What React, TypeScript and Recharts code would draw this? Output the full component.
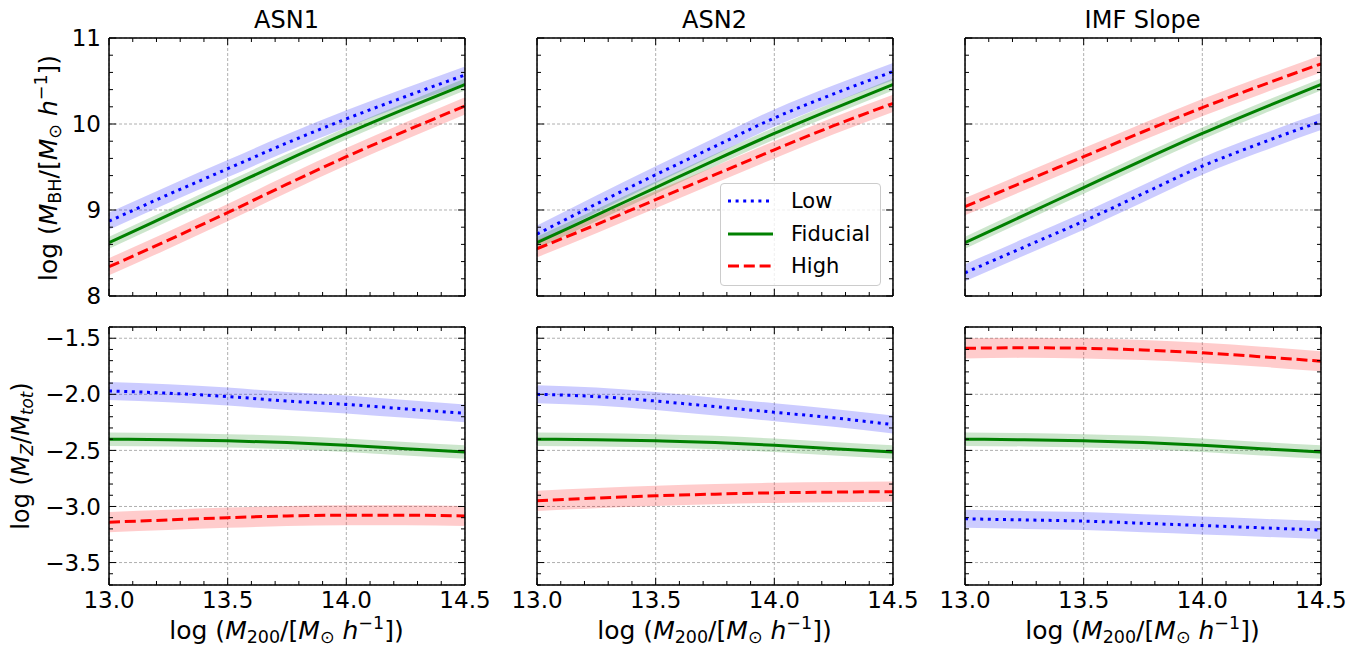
import { ComposedChart, Area, Line, XAxis, YAxis, CartesianGrid, Legend } from "recharts";

const FONT = '"DejaVu Sans", sans-serif';

// log M200 sample points
const haloMass = [13.0, 13.25, 13.5, 13.75, 14.0, 14.25, 14.5];

// top row: log M_BH
const bhFiducial = [8.62, 8.94, 9.26, 9.58, 9.89, 10.18, 10.46];
const bhAsn1Low = [8.87, 9.18, 9.48, 9.78, 10.06, 10.32, 10.57];
const bhAsn1High = [8.34, 8.65, 8.97, 9.3, 9.62, 9.92, 10.21];
const bhAsn2Low = [8.72, 9.07, 9.41, 9.74, 10.07, 10.35, 10.61];
const bhAsn2High = [8.55, 8.83, 9.12, 9.41, 9.7, 9.98, 10.24];
const bhImfLow = [8.27, 8.57, 8.87, 9.19, 9.51, 9.78, 10.03];
const bhImfHigh = [9.04, 9.33, 9.62, 9.91, 10.19, 10.45, 10.7];

// bottom row: log M_Z / M_tot
const zFiducial = [-2.4, -2.405, -2.415, -2.43, -2.455, -2.485, -2.515];
const zAsn1Low = [-1.97, -1.99, -2.02, -2.06, -2.09, -2.13, -2.17];
const zAsn1High = [-3.14, -3.12, -3.1, -3.085, -3.078, -3.078, -3.085];
const zAsn2Low = [-2.0, -2.02, -2.06, -2.11, -2.16, -2.21, -2.27];
const zAsn2High = [-2.95, -2.925, -2.905, -2.89, -2.878, -2.872, -2.868];
const zImfLow = [-3.11, -3.12, -3.13, -3.15, -3.17, -3.19, -3.21];
const zImfHigh = [-1.59, -1.585, -1.59, -1.605, -1.63, -1.665, -1.705];

// half widths of the shaded scatter bands
const bhSpread = { low: 0.1, fid: 0.07, high: 0.1 };
const zSpread = { low: 0.08, fid: 0.06, high: 0.09 };

const titles = ["ASN1", "ASN2", "IMF Slope"];

const xTicks = [13.0, 13.5, 14.0, 14.5];
const xMinorTicks = [13.1, 13.2, 13.3, 13.4, 13.6, 13.7, 13.8, 13.9, 14.1, 14.2, 14.3, 14.4];
const bhTicks = [8, 9, 10, 11];
const bhMinorTicks = [8.2, 8.4, 8.6, 8.8, 9.2, 9.4, 9.6, 9.8, 10.2, 10.4, 10.6, 10.8];
const zTicks = [-3.5, -3.0, -2.5, -2.0, -1.5];
const zMinorTicks = [
  -3.7, -3.6, -3.4, -3.3, -3.2, -3.1, -2.9, -2.8, -2.7, -2.6, -2.4, -2.3, -2.2, -2.1, -1.9, -1.8,
  -1.7, -1.6, -1.4,
];

const series = [
  { key: "low", name: "Low", color: "#0000ff", dash: "3 4.6" },
  { key: "fid", name: "Fiducial", color: "#008000", dash: undefined },
  { key: "high", name: "High", color: "#ff0000", dash: "11 4.8" },
];

const buildRows = (low: number[], fid: number[], high: number[], s: any) =>
  haloMass.map((m, i) => ({
    m,
    low: low[i],
    fid: fid[i],
    high: high[i],
    lowBand: [low[i] - s.low, low[i] + s.low],
    fidBand: [fid[i] - s.fid, fid[i] + s.fid],
    highBand: [high[i] - s.high, high[i] + s.high],
  }));

const panels = [
  [
    buildRows(bhAsn1Low, bhFiducial, bhAsn1High, bhSpread),
    buildRows(bhAsn2Low, bhFiducial, bhAsn2High, bhSpread),
    buildRows(bhImfLow, bhFiducial, bhImfHigh, bhSpread),
  ],
  [
    buildRows(zAsn1Low, zFiducial, zAsn1High, zSpread),
    buildRows(zAsn2Low, zFiducial, zAsn2High, zSpread),
    buildRows(zImfLow, zFiducial, zImfHigh, zSpread),
  ],
];

const plotLefts = [108.5, 536.5, 964.5];
const plotTops = [38, 327];
const PLOT_W = 356;
const PLOT_H = 258;
const ML = 70;
const MR = 36;
const MT = 20;
const MB = 45;
const THIN = 0.01; // axes need a non-zero size to render

const fmtZ = (v: number) => v.toFixed(1).replace("-", "\u2212");
const noLabel = () => <g />;

const LegendBox = () => (
  <div
    style={{
      width: 161,
      height: 103,
      boxSizing: "border-box",
      border: "1px solid #cccccc",
      borderRadius: 4,
      background: "rgba(255,255,255,0.8)",
      paddingTop: 1,
      paddingLeft: 7,
      fontFamily: FONT,
      fontSize: 21,
      color: "#000",
    }}
  >
    {series.map((s) => (
      <div key={s.key} style={{ display: "flex", alignItems: "center", height: 32.5 }}>
        <svg width={45} height={6} style={{ marginRight: 18 }}>
          <line x1={0} y1={3} x2={45} y2={3} stroke={s.color} strokeWidth={3} strokeDasharray={s.dash} />
        </svg>
        <span>{s.name}</span>
      </div>
    ))}
  </div>
);

function frameAxes(row: number, col: number) {
  const yDomain = row === 0 ? [8, 11] : [-3.7, -1.4];
  const yMajor = row === 0 ? bhTicks : zTicks;
  const yMinor = row === 0 ? bhMinorTicks : zMinorTicks;
  const frame = { stroke: "#000", strokeWidth: 1.5 };
  const tl = { stroke: "#000", strokeWidth: 1 };
  const tickText = { fill: "#000", fontSize: 23, fontFamily: FONT };
  const common = { type: "number" as const, allowDataOverflow: true, interval: 0 as const };
  return [
    <XAxis key="b" xAxisId="b" dataKey="m" orientation="bottom" domain={[13, 14.5]} ticks={xTicks} height={THIN}
      tickSize={-7} tickMargin={14} axisLine={frame} tickLine={tl}
      tick={row === 1 ? tickText : noLabel} tickFormatter={(v: number) => v.toFixed(1)} {...common} />,
    <XAxis key="bm" xAxisId="bm" dataKey="m" orientation="bottom" domain={[13, 14.5]} ticks={xMinorTicks} height={THIN}
      tickSize={-4} axisLine={false} tickLine={tl} tick={noLabel} {...common} />,
    <XAxis key="t" xAxisId="t" dataKey="m" orientation="top" domain={[13, 14.5]} ticks={xTicks} height={THIN}
      tickSize={-7} axisLine={frame} tickLine={tl} tick={noLabel} {...common} />,
    <XAxis key="tm" xAxisId="tm" dataKey="m" orientation="top" domain={[13, 14.5]} ticks={xMinorTicks} height={THIN}
      tickSize={-4} axisLine={false} tickLine={tl} tick={noLabel} {...common} />,
    <YAxis key="l" yAxisId="l" orientation="left" domain={yDomain} ticks={yMajor} width={THIN}
      tickSize={-7} tickMargin={15} axisLine={frame} tickLine={tl}
      tick={col === 0 ? tickText : noLabel} tickFormatter={row === 0 ? (v: number) => String(v) : fmtZ} {...common} />,
    <YAxis key="lm" yAxisId="lm" orientation="left" domain={yDomain} ticks={yMinor} width={THIN}
      tickSize={-4} axisLine={false} tickLine={tl} tick={noLabel} {...common} />,
    <YAxis key="r" yAxisId="r" orientation="right" domain={yDomain} ticks={yMajor} width={THIN}
      tickSize={-7} axisLine={frame} tickLine={tl} tick={noLabel} {...common} />,
    <YAxis key="rm" yAxisId="rm" orientation="right" domain={yDomain} ticks={yMinor} width={THIN}
      tickSize={-4} axisLine={false} tickLine={tl} tick={noLabel} {...common} />,
  ];
}

function Panel({ row, col }: { row: number; col: number }) {
  const data = panels[row][col];
  return (
    <div style={{ position: "absolute", left: plotLefts[col] - ML, top: plotTops[row] - MT }}>
      <ComposedChart
        width={PLOT_W + ML + MR}
        height={PLOT_H + MT + MB}
        data={data}
        margin={{ top: MT, right: MR, bottom: MB, left: ML }}
      >
        <CartesianGrid xAxisId="b" yAxisId="l" stroke="#9a9a9a" strokeWidth={0.8} strokeDasharray="3 2" />
        {frameAxes(row, col)}
        {series.map((s) => (
          <Area
            key={s.key + "Band"}
            xAxisId="b"
            yAxisId="l"
            type="monotone"
            dataKey={s.key + "Band"}
            stroke="none"
            fill={s.color}
            fillOpacity={0.2}
            dot={false}
            activeDot={false}
            legendType="none"
            isAnimationActive={false}
          />
        ))}
        {series.map((s) => (
          <Line
            key={s.key}
            xAxisId="b"
            yAxisId="l"
            type="monotone"
            dataKey={s.key}
            name={s.name}
            stroke={s.color}
            strokeWidth={3}
            strokeDasharray={s.dash}
            dot={false}
            activeDot={false}
            isAnimationActive={false}
          />
        ))}
        {row === 0 && col === 1 && (
          <Legend
            layout="vertical"
            align="center"
            verticalAlign="middle"
            content={() => <LegendBox />}
            wrapperStyle={{ left: 253.5, top: 165, width: 161, height: 103 }}
          />
        )}
      </ComposedChart>
    </div>
  );
}

// shifted with relative positioning so the line box keeps its height
const sub = (t: any) => (
  <span style={{ fontSize: "0.7em", position: "relative", top: "0.22em" }}>{t}</span>
);
const sup = (t: any) => (
  <span style={{ fontSize: "0.7em", position: "relative", top: "-0.55em" }}>{t}</span>
);

const xLabel = (
  <>
    log (<i>M</i>
    {sub("200")}/[<i>M</i>
    {sub("\u2299")} <i>h</i>
    {sup("\u22121")}])
  </>
);

export default function App() {
  return (
    <div
      style={{
        position: "absolute",
        left: 0,
        top: 0,
        width: 1360,
        height: 648,
        background: "#fff",
        fontFamily: FONT,
        color: "#000",
      }}
    >
      {[0, 1].map((row) => [0, 1, 2].map((col) => <Panel key={row + "-" + col} row={row} col={col} />))}

      {titles.map((t, col) => (
        <div
          key={t}
          style={{
            position: "absolute",
            left: plotLefts[col],
            width: PLOT_W,
            top: 6,
            lineHeight: "28px",
            textAlign: "center",
            fontSize: 24,
          }}
        >
          {t}
        </div>
      ))}

      {plotLefts.map((x, col) => (
        <div
          key={"xl" + col}
          style={{
            position: "absolute",
            left: x,
            width: PLOT_W,
            top: 617,
            height: 28,
            lineHeight: "28px",
            textAlign: "center",
            fontSize: 25,
            whiteSpace: "nowrap",
          }}
        >
          {xLabel}
        </div>
      ))}

      <div
        style={{
          position: "absolute",
          left: 50,
          top: 168,
          transform: "translate(-50%, -50%) rotate(-90deg)",
          fontSize: 25,
          whiteSpace: "nowrap",
          lineHeight: "28px",
        }}
      >
        log (<i>M</i>
        {sub("BH")}/[<i>M</i>
        {sub("\u2299")} <i>h</i>
        {sup("\u22121")}])
      </div>

      <div
        style={{
          position: "absolute",
          left: 22,
          top: 456,
          transform: "translate(-50%, -50%) rotate(-90deg)",
          fontSize: 24,
          whiteSpace: "nowrap",
          lineHeight: "28px",
        }}
      >
        log (<i>M</i>
        {sub(<i>Z</i>)}/<i>M</i>
        {sub(<i>tot</i>)})
      </div>
    </div>
  );
}
